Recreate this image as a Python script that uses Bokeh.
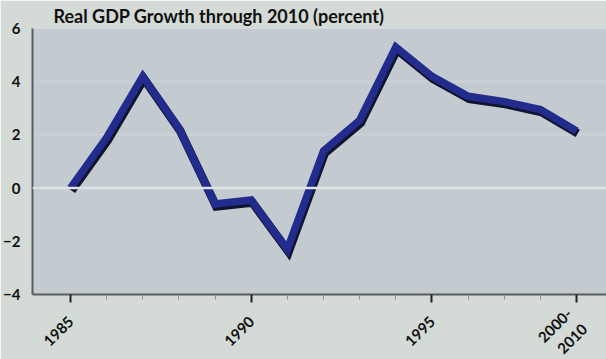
import math
from bokeh.plotting import figure
from bokeh.models import (Range1d, FixedTicker, Span, ColumnDataSource)
from bokeh.embed import file_html
from bokeh.resources import INLINE

# ---- data ----
categories = ["1985", "1986", "1987", "1988", "1989", "1990", "1991", "1992",
              "1993", "1994", "1995", "1996", "1997", "1998", "2000-\n2010"]
growth = [0.0, 1.9, 4.2, 2.25, -0.6, -0.45, -2.3, 1.4, 2.55, 5.3,
          4.2, 3.45, 3.25, 2.95, 2.15]
major_tick_idx = [0, 5, 10, 14]
y_ticks = [-4, -2, 0, 2, 4, 6]
title_text = "Real GDP Growth through 2010 (percent)"

xs = list(range(len(categories)))
src = ColumnDataSource(dict(x=xs, y=growth))

OUTER = "#d4dad5"
PLOT = "#c3cad0"
FONT = "Lato"

FW, FH = 581, 266
X0 = -1.05
PPX = 36.15
X1 = X0 + FW / PPX

p = figure(frame_width=FW, frame_height=FH, output_backend="svg",
           toolbar_location=None, title=title_text,
           x_range=Range1d(X0, X1), y_range=Range1d(-4, 6),
           min_border_left=25, min_border_right=0, min_border_top=0,
           min_border_bottom=0)
p.background_fill_color = PLOT
p.border_fill_color = OUTER
p.outline_line_color = None

p.title.text_font = FONT
p.title.text_font_style = "bold"
p.title.text_font_size = "18px"
p.title.text_color = "#111111"
p.title.align = "left"
p.title.offset = 21
p.title.standoff = 4

# shadow via slightly shifted ranges (same data)
px_per_y = FH / 10.0
dx = 1.2 / PPX
dy = 2.5 / px_per_y
p.extra_x_ranges = {"sh": Range1d(X0 - dx, X1 - dx)}
p.extra_y_ranges = {"sh": Range1d(-4 + dy, 6 + dy)}

# grid
p.xgrid.visible = False
p.ygrid.ticker = FixedTicker(ticks=[2, 4])
p.ygrid.grid_line_color = "#ccd3d6"
p.ygrid.grid_line_width = 2
p.add_layout(Span(location=0, dimension="width", line_color="#dde3e3", line_width=2.5))

p.line("x", "y", source=src, x_range_name="sh", y_range_name="sh",
       line_color="#11142e", line_width=8.5, line_join="miter")
p.line("x", "y", source=src, line_color="#212c8c", line_width=7.5, line_join="miter")

# axes
xa = p.xaxis[0]
xa.ticker = FixedTicker(ticks=major_tick_idx,
                        minor_ticks=[i for i in xs if i not in major_tick_idx])
xa.major_label_overrides = {i: categories[i] for i in major_tick_idx}
xa.major_label_orientation = math.pi / 4
xa.axis_line_color = "#5a5d60"
xa.axis_line_width = 2
xa.major_tick_line_color = "#222222"
xa.major_tick_line_width = 2
xa.major_tick_out = 8
xa.major_tick_in = 0
xa.minor_tick_line_color = "#8a8f92"
xa.minor_tick_line_width = 1
xa.minor_tick_out = 5
xa.minor_tick_in = 0
xa.major_label_standoff = 16
xa.major_label_text_font = FONT
xa.major_label_text_font_style = "bold"
xa.major_label_text_font_size = "15px"
xa.major_label_text_color = "#111111"

ya = p.yaxis[0]
ya.ticker = FixedTicker(ticks=y_ticks)
ya.axis_line_color = "#5a5d60"
ya.axis_line_width = 2
ya.major_tick_out = 0
ya.major_tick_in = 0
ya.minor_tick_out = 0
ya.minor_tick_in = 0
ya.major_label_standoff = 12
ya.major_label_text_font = FONT
ya.major_label_text_font_style = "bold"
ya.major_label_text_font_size = "15px"
ya.major_label_text_color = "#111111"

open("out.html", "w").write(file_html(p, INLINE))
